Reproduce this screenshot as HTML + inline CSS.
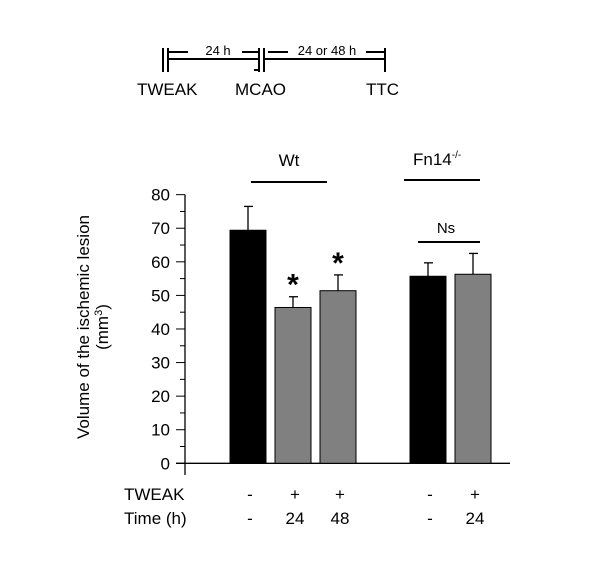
<!DOCTYPE html>
<html><head><meta charset="utf-8"><style>
body{margin:0;background:#fff}
svg{display:block;font-family:"Liberation Sans",Arial,sans-serif}
</style></head><body>
<svg id="chart" width="600" height="575" viewBox="0 0 600 575">
<g stroke="#000" stroke-width="2" fill="none">
  <line x1="163" y1="48" x2="163" y2="72"/><line x1="168" y1="48" x2="168" y2="72"/>
  <line x1="168" y1="59" x2="259" y2="59"/><line x1="259" y1="48" x2="259" y2="72"/>
  <line x1="264" y1="48" x2="264" y2="72"/><line x1="264" y1="59" x2="385" y2="59"/>
  <line x1="385" y1="48" x2="385" y2="72"/>
  <line x1="168" y1="52" x2="188" y2="52"/><line x1="242" y1="52" x2="259" y2="52"/>
  <line x1="268" y1="52" x2="288" y2="52"/><line x1="366" y1="52" x2="385" y2="52"/>
  <line x1="254" y1="70" x2="259" y2="70"/>
</g>
<g font-size="13" text-anchor="middle">
  <text x="218" y="55">24 h</text>
  <text x="327" y="55">24 or 48 h</text>
</g>
<g font-size="17">
  <text x="137" y="95">TWEAK</text>
  <text x="235" y="95">MCAO</text>
  <text x="366" y="95">TTC</text>
</g>
<text x="289" y="166" font-size="17" text-anchor="middle">Wt</text>
<line x1="251" y1="182" x2="327" y2="182" stroke="#000" stroke-width="2"/>
<text x="413" y="165" font-size="17">Fn14<tspan font-size="10" dy="-7">-/-</tspan></text>
<line x1="404" y1="180" x2="480" y2="180" stroke="#000" stroke-width="2"/>
<text x="446" y="233" font-size="15" text-anchor="middle">Ns</text>
<line x1="418" y1="242" x2="480" y2="242" stroke="#000" stroke-width="2"/>
<g transform="translate(89,327) rotate(-90)" font-size="17" text-anchor="middle">
  <text x="0" y="0">Volume of the ischemic lesion</text>
  <text x="0" y="19">(mm<tspan font-size="11" dy="-6">3</tspan><tspan dy="6">)</tspan></text>
</g>
<g id="axes"></g>
<g id="bars"></g>
<g font-size="17">
  <text x="124" y="500">TWEAK</text>
  <text x="124" y="524">Time (h)</text>
</g>
<g id="rows" font-size="17" text-anchor="middle"></g>
</svg>
<script>
const categories=["Wt control","Wt TWEAK 24h","Wt TWEAK 48h","Fn14 control","Fn14 TWEAK 24h"];
const values=[69.4,46.4,51.4,55.7,56.3];
const errors=[7.1,3.2,4.7,4.0,6.2];
const colors=["#000","#808080","#808080","#000","#808080"];
const significant=[false,true,true,false,false];
const tweakRow=["-","+","+","-","+"];
const timeRow=["-","24","48","-","24"];
const yTicks=[0,10,20,30,40,50,60,70,80];
const barCenters=[248,293,338,428,473];
const NS="http://www.w3.org/2000/svg";
const y=v=>463.3-v*3.358;
function mk(t,a,p){const e=document.createElementNS(NS,t);for(const k in a)e.setAttribute(k,a[k]);p.appendChild(e);return e;}
const ax=document.getElementById('axes');
let l=mk('line',{x1:185,y1:y(80),x2:185,y2:475,stroke:'#000','stroke-width':1.3},ax);


l=mk('line',{x1:176,y1:y(0),x2:510,y2:y(0),stroke:'#000','stroke-width':1.3},ax);


for(let v=0;v<=80;v+=5){const t=mk('line',{x1:v%10?180:176,y1:y(v),x2:185,y2:y(v),stroke:'#000','stroke-width':1},ax);

}
yTicks.forEach(v=>{const t=mk('text',{x:170,y:y(v)+6,'font-size':17,'text-anchor':'end'},ax);t.textContent=v;

});
const bg=document.getElementById('bars');
values.forEach((v,i)=>{const c=barCenters[i];
const e=mk('line',{x1:c,y1:y(v),x2:c,y2:y(v+errors[i]),stroke:'#000','stroke-width':1.3},bg);


const cap=mk('line',{x1:c-4,y1:y(v+errors[i]),x2:c+5,y2:y(v+errors[i]),stroke:'#000','stroke-width':1.3},bg);


const r=mk('rect',{x:c-18,y:y(v),width:36,height:y(0)-y(v),fill:colors[i],stroke:'#000','stroke-width':1},bg);


if(significant[i]){const s=mk('text',{x:c,y:y(v+errors[i])-2,'font-size':30,'font-weight':'bold','text-anchor':'middle'},bg);s.textContent='*';

}
});
const rg=document.getElementById('rows');
barCenters.forEach((c,i)=>{
const a=mk('text',{x:c+2,y:500},rg);a.textContent=tweakRow[i];


const b=mk('text',{x:c+2,y:524},rg);b.textContent=timeRow[i];

});
</script>
</body></html>
